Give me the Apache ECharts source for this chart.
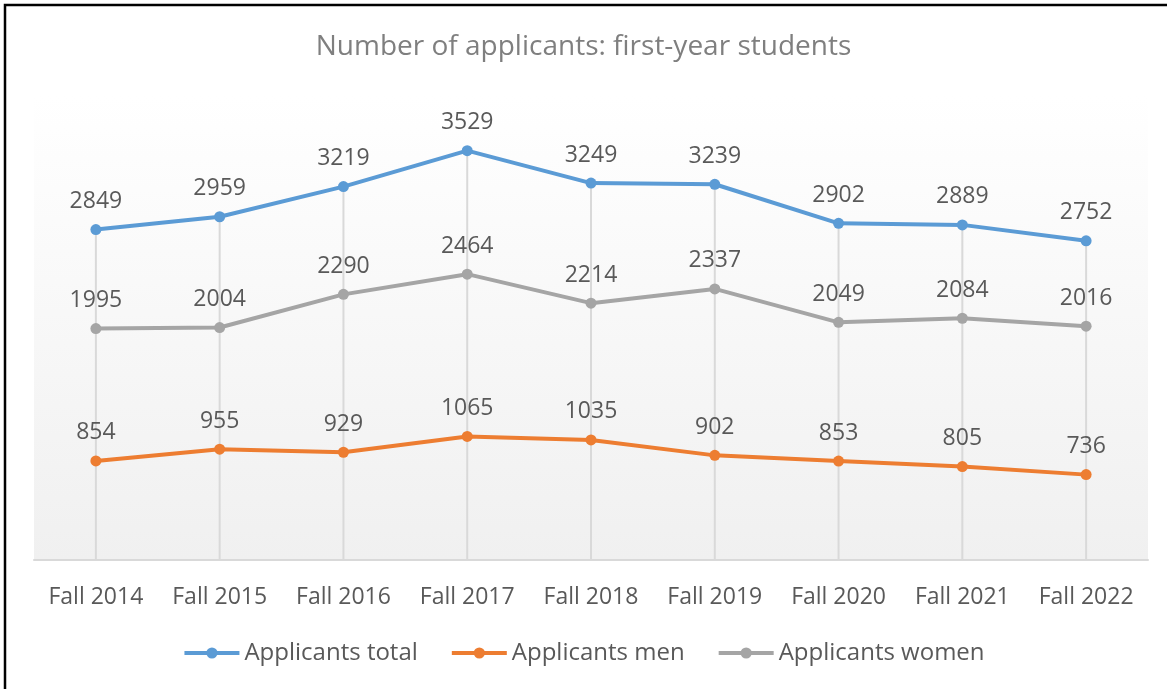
<!DOCTYPE html>
<html>
<head>
<meta charset="utf-8">
<script src="https://cdn.jsdelivr.net/npm/echarts@6/dist/echarts.min.js"></script>
<style>
  html, body { margin: 0; padding: 0; background: #fff; }
  #chart { width: 1167px; height: 689px; }
</style>
</head>
<body>
<div id="chart"></div>
<script>
// Fall intake years
const categories = ['Fall 2014', 'Fall 2015', 'Fall 2016', 'Fall 2017', 'Fall 2018',
                    'Fall 2019', 'Fall 2020', 'Fall 2021', 'Fall 2022'];
// Applicant counts per intake
const applicantsTotal = [2849, 2959, 3219, 3529, 3249, 3239, 2902, 2889, 2752];
const applicantsMen   = [854, 955, 929, 1065, 1035, 902, 853, 805, 736];
const applicantsWomen = [1995, 2004, 2290, 2464, 2214, 2337, 2049, 2084, 2016];

const FONT = '"Open Sans", "Liberation Sans", sans-serif';
const TEXT = '#595959';

function lineSeries(name, data, color) {
  return {
    name: name,
    type: 'line',
    data: data,
    z: 5,
    symbol: 'circle',
    symbolSize: 11,
    lineStyle: { color: color, width: 4 },
    itemStyle: { color: color },
    label: {
      show: true,
      position: 'top',
      distance: 11,
      color: TEXT,
      fontFamily: FONT,
      fontSize: 23
    }
  };
}

const chart = echarts.init(document.getElementById('chart'), null, { renderer: 'canvas' });
chart.setOption({
  animation: false,
  backgroundColor: '#ffffff',
  title: {
    text: 'Number of applicants: first-year students',
    left: 'center',
    top: 28,
    textStyle: { color: '#7f7f7f', fontFamily: FONT, fontSize: 28, fontWeight: 'normal' }
  },
  legend: {
    top: 636,
    left: 'center',
    itemWidth: 55,
    itemHeight: 14,
    itemGap: 32,
    lineStyle: { width: 4 },
    data: ['Applicants total', 'Applicants men', 'Applicants women'],
    textStyle: { color: TEXT, fontFamily: FONT, fontSize: 24 }
  },
  grid: {
    left: 34, right: 19, top: 96, bottom: 129,
    show: true,
    borderWidth: 0,
    backgroundColor: new echarts.graphic.LinearGradient(0, 0, 0, 1, [
      { offset: 0, color: '#ffffff' },
      { offset: 1, color: '#f0f0f0' }
    ])
  },
  xAxis: {
    type: 'category',
    data: categories,
    axisLine: { lineStyle: { color: '#d9d9d9', width: 2 } },
    axisTick: { show: false },
    splitLine: { show: false },
    axisLabel: { interval: 0, color: TEXT, fontFamily: FONT, fontSize: 23, margin: 26 }
  },
  yAxis: {
    type: 'value',
    min: 0,
    max: 4000,
    show: false,
    splitLine: { show: false }
  },
  graphic: [{
    type: 'polyline',
    shape: { points: [[5, 689], [5, 5], [1167, 5]] },
    style: { stroke: '#000', lineWidth: 2.5, fill: null },
    silent: true
  }],
  series: [
    {
      // drop lines from the highest series down to the axis
      name: 'drop',
      type: 'bar',
      data: applicantsTotal,
      barWidth: 2,
      z: 1,
      silent: true,
      itemStyle: { color: '#d9d9d9' },
      label: { show: false }
    },
    lineSeries('Applicants total', applicantsTotal, '#5b9bd5'),
    lineSeries('Applicants men', applicantsMen, '#ed7d31'),
    lineSeries('Applicants women', applicantsWomen, '#a5a5a5')
  ]
});
</script>
</body>
</html>
